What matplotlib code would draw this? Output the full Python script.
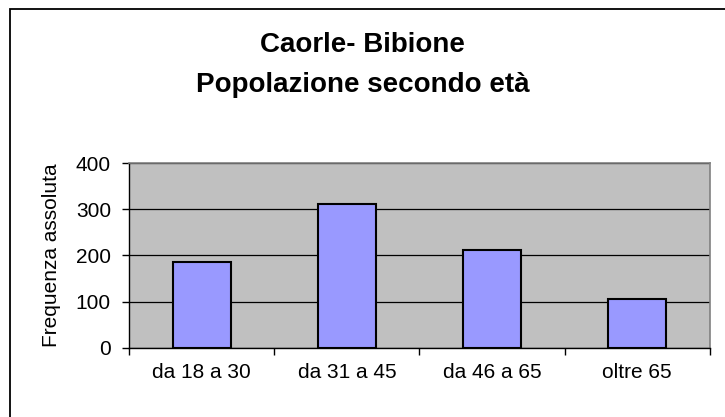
import matplotlib
matplotlib.use("Agg")
import matplotlib.pyplot as plt
from matplotlib.patches import Rectangle

# data
categories = ["da 18 a 30", "da 31 a 45", "da 46 a 65", "oltre 65"]
values = [185, 312, 212, 105]
yticks = [0, 100, 200, 300, 400]

plt.rcParams['font.family'] = ['Liberation Sans', 'DejaVu Sans']

fig = plt.figure(figsize=(7.25, 4.17), dpi=100)
fig.patch.set_facecolor("white")

# outer chart border (right and bottom edges fall outside the picture)
fig.patches.append(Rectangle((0.0138, -0.05), 1.05, 1.0296, transform=fig.transFigure,
                             fill=False, edgecolor="black", linewidth=1.3))

ax = fig.add_axes([0.178, 0.1655, 0.801, 0.4436])
ax.set_facecolor("#C0C0C0")

x = range(len(categories))
ax.bar(x, values, width=0.4, color="#9999FF", edgecolor="black", linewidth=1.5, zorder=3)

ax.set_xlim(-0.5, len(categories) - 0.5)
ax.set_ylim(0, 400)
ax.set_yticks(yticks)
ax.yaxis.grid(True, color="black", linewidth=0.9, zorder=1)
ax.set_axisbelow(True)

# category ticks sit between the bars, labels centred under them
ax.set_xticks([i - 0.5 for i in range(len(categories) + 1)])
ax.set_xticklabels([])
ax.set_xticks(list(x), minor=True)
ax.set_xticklabels(categories, minor=True, fontsize=15)
ax.tick_params(axis="x", which="minor", length=0, pad=11)
ax.tick_params(axis="x", which="major", length=5, width=1, direction="out")
ax.tick_params(axis="y", length=5, width=1, direction="out", labelsize=15, pad=8)

for s in ["top", "right"]:
    ax.spines[s].set_color("#808080")
    ax.spines[s].set_linewidth(1.2)
for s in ["left", "bottom"]:
    ax.spines[s].set_color("black")
    ax.spines[s].set_linewidth(1.0)

ax.set_ylabel("Frequenza assoluta", fontsize=15, labelpad=11)

fig.text(0.5, 0.892, "Caorle- Bibione", ha="center", va="center",
         fontsize=20, fontweight="bold")
fig.text(0.5, 0.796, "Popolazione secondo età", ha="center", va="center",
         fontsize=20, fontweight="bold")

fig.savefig("out.png", dpi=100)
